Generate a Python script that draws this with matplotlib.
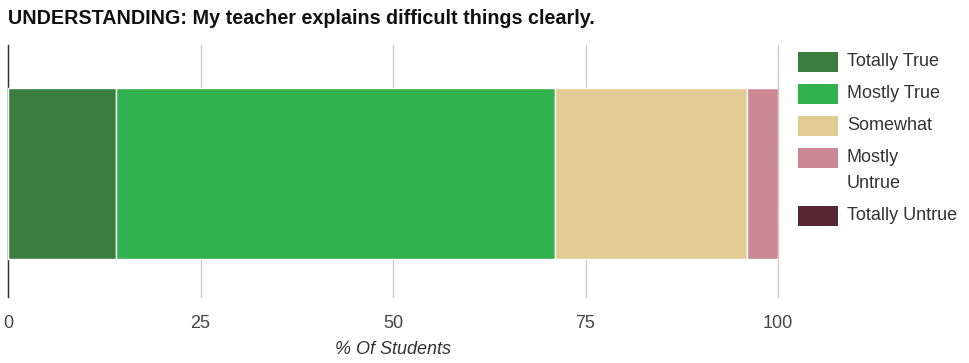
import matplotlib.pyplot as plt
from matplotlib.patches import Rectangle

plt.rcParams['font.family'] = ['Liberation Sans', 'DejaVu Sans']

# Dados do grafico
categorias = ['Totally True', 'Mostly True', 'Somewhat', 'Mostly\nUntrue', 'Totally Untrue']
valores = [14, 57, 25, 4, 0]
cores = ['#3a7d3e', '#31b24e', '#e2cc93', '#cc8893', '#552633']
ticks = [0, 25, 50, 75, 100]

W, H = 969, 363
fig = plt.figure(figsize=(W / 100, H / 100), dpi=100)
ax = fig.add_axes([8 / W, 66 / H, 770 / W, 252 / H])

esquerda = 0
for v, c in zip(valores, cores):
    if v > 0:
        ax.barh(0, v, left=esquerda, height=0.675, color=c,
                edgecolor='white', linewidth=1, zorder=3)
    esquerda += v

ax.set_xlim(0, 100)
ax.set_ylim(-0.49, 0.51)
ax.set_xticks(ticks)
ax.set_xticklabels([str(t) for t in ticks], fontsize=13, color='#444444')
ax.tick_params(axis='x', length=0, pad=13)
ax.set_yticks([])
ax.grid(True, axis='x', color='#cccccc', linewidth=1, zorder=0)
for gl in ax.get_xgridlines():
    gl.set_clip_on(False)
for s in ['top', 'right', 'bottom']:
    ax.spines[s].set_visible(False)
ax.spines['left'].set_color('#333333')
ax.spines['left'].set_linewidth(1)

fig.text(393 / W, 1 - 349 / H, '% Of Students', fontsize=13, style='italic',
         color='#333333', ha='center', va='center')

fig.text(8 / W, 1 - 18 / H, 'UNDERSTANDING: My teacher explains difficult things clearly.',
         fontsize=14.2, fontweight='bold', va='center', ha='left', color='#111111')

# legenda desenhada a mao (o rotulo de duas linhas fica alinhado pela primeira linha)
y = 62
for cat, c in zip(categorias, cores):
    fig.patches.append(Rectangle((798 / W, 1 - (y + 10) / H), 40 / W, 20 / H,
                                 facecolor=c, edgecolor='none', transform=fig.transFigure))
    for k, linha in enumerate(cat.split('\n')):
        fig.text(847 / W, 1 - (y + 26 * k) / H, linha, fontsize=13, color='#333333',
                 ha='left', va='center')
    y += 32 + 26 * (len(cat.split('\n')) - 1)

plt.savefig('out.png', dpi=100)
